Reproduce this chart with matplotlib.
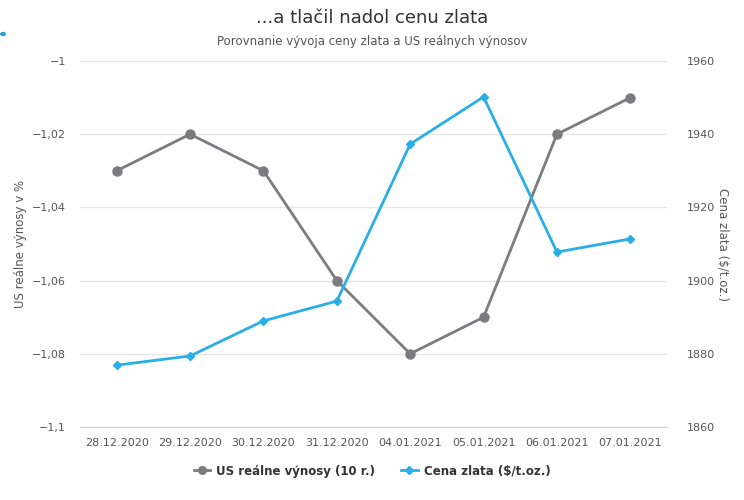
import matplotlib
matplotlib.use("Agg")
import matplotlib.pyplot as plt
from matplotlib.ticker import FuncFormatter
from matplotlib.lines import Line2D

# data
dates = ["28.12.2020", "29.12.2020", "30.12.2020", "31.12.2020",
         "04.01.2021", "05.01.2021", "06.01.2021", "07.01.2021"]
real_yield = [-1.03, -1.02, -1.03, -1.06, -1.08, -1.07, -1.02, -1.01]
gold_price = [1876.9, 1879.4, 1889.0, 1894.4, 1937.3, 1950.2, 1907.8, 1911.4]

gray = "#7c7c80"
blue = "#2aaee8"
txt = "#555555"

fig = plt.figure(figsize=(7.44, 5), dpi=100)
ax = fig.add_axes([80 / 744, 1 - 427 / 500, (667 - 80) / 744, (427 - 61) / 500])
ax2 = ax.twinx()

x = list(range(len(dates)))
ax.plot(x, real_yield, color=gray, lw=2, marker="o", ms=6.5, zorder=3)
ax2.plot(x, gold_price, color=blue, lw=2, marker="D", ms=4.5, zorder=4)

ax.set_xlim(-0.5, len(dates) - 0.5)
ax.set_ylim(-1.1, -1.0)
ax2.set_ylim(1860, 1960)
ax.set_yticks([-1.1, -1.08, -1.06, -1.04, -1.02, -1.0])
ax2.set_yticks(range(1860, 1961, 20))


def fmt(v, pos):
    s = ("%.2f" % v).rstrip("0").rstrip(".")
    return s.replace("-", "\u2212").replace(".", ",")


ax.yaxis.set_major_formatter(FuncFormatter(fmt))
ax.set_xticks(x)
ax.set_xticklabels(dates)

ax.grid(axis="y", color="#e6e6e6", lw=1)
ax.set_axisbelow(True)
for a in (ax, ax2):
    for s in a.spines.values():
        s.set_visible(False)
    a.tick_params(length=0, labelsize=8, labelcolor=txt)
ax.spines["bottom"].set_visible(True)
ax.spines["bottom"].set_color("#ccd6eb")
ax.tick_params(axis="x", pad=8)
ax.tick_params(axis="y", pad=10)
ax2.tick_params(axis="y", pad=14)

ax.set_ylabel("US reálne výnosy v %", fontsize=8.5, color=txt, labelpad=4)
ax2.set_ylabel("Cena zlata ($/t.oz.)", fontsize=8.5, color=txt, rotation=270, labelpad=10)

fig.text(0.5, 1 - 18 / 500, "...a tlačil nadol cenu zlata", ha="center", va="center",
         fontsize=13, color="#333333")
fig.text(0.5, 1 - 42 / 500, "Porovnanie vývoja ceny zlata a US reálnych výnosov",
         ha="center", va="center", fontsize=8.5, color=txt)
fig.patches.append(plt.Circle((3 / 744, 1 - 34 / 500), 0.003, color="#2a9fd8",
                              transform=fig.transFigure, figure=fig))

handles = [Line2D([], [], color=gray, lw=2, marker="o", ms=5.5),
           Line2D([], [], color=blue, lw=2, marker="D", ms=4)]
leg = fig.legend(handles, ["US reálne výnosy (10 r.)", "Cena zlata ($/t.oz.)"],
                 loc="center", bbox_to_anchor=(0.5, 1 - 471 / 500), ncol=2,
                 frameon=False, fontsize=8.5, handlelength=1.4, columnspacing=2.2,
                 handletextpad=0.5)
for t in leg.get_texts():
    t.set_fontweight("bold")
    t.set_color("#333333")

fig.savefig("out.png", dpi=100)
